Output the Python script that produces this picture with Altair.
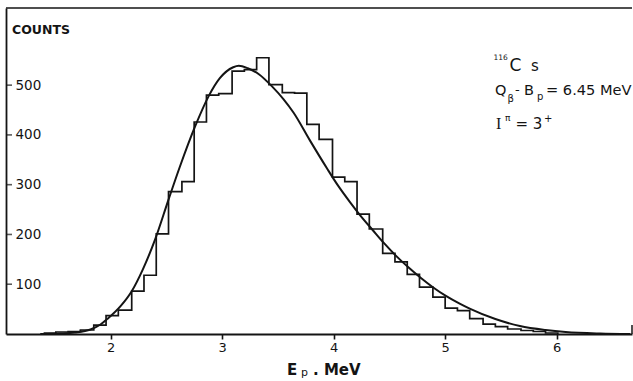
import altair as alt
import pandas as pd

# ---- data ----
# histogram: lower bin edges (MeV) and counts (last entry closes the histogram)
bin_edges = [1.40, 1.51, 1.62, 1.73, 1.85, 1.96, 2.07, 2.19, 2.30, 2.41,
             2.52, 2.64, 2.75, 2.86, 2.97, 3.09, 3.20, 3.31, 3.42, 3.54,
             3.65, 3.76, 3.87, 3.99, 4.10, 4.21, 4.32, 4.44, 4.55, 4.66,
             4.77, 4.89, 5.00, 5.11, 5.22, 5.34, 5.45, 5.56, 5.68, 5.79,
             5.90, 6.01]
counts = [2, 4, 5, 8, 18, 37, 48, 86, 118, 201,
          286, 306, 426, 480, 483, 528, 531, 555, 501, 485,
          484, 421, 391, 315, 306, 241, 211, 162, 145, 120,
          94, 74, 52, 47, 31, 20, 15, 10, 7, 5,
          2, 0]

# smooth calculated curve
curve_E = [1.37, 1.55, 1.68, 1.82, 1.91, 1.97, 2.09, 2.19, 2.29, 2.40,
           2.52, 2.62, 2.76, 2.88, 2.98, 3.10, 3.15, 3.23, 3.33, 3.45,
           3.55, 3.64, 3.79, 3.94, 4.04, 4.15, 4.24, 4.35, 4.45, 4.56,
           4.67, 4.78, 4.89, 5.01, 5.13, 5.22, 5.45, 5.67, 5.90, 6.08,
           6.39, 6.66]
curve_N = [0, 1, 3, 9, 19, 30, 56, 86, 130, 190,
           270, 335, 418, 478, 514, 536, 539, 534, 522, 497,
           472, 445, 388, 333, 298, 264, 238, 209, 183, 157,
           134, 113, 94, 76, 61, 51, 30, 16, 8, 4,
           1, 0]

x_ticks = [2, 3, 4, 5, 6]
y_ticks = [100, 200, 300, 400, 500]
x_domain = [1.063, 6.675]
y_domain = [0, 655]

# ---- layout ----
W, H = 626, 326
PAD_L, PAD_T = 6, 8
INK = "#141414"

hist_df = pd.DataFrame({"E": bin_edges, "N": counts})
curve_df = pd.DataFrame({"E": curve_E, "N": curve_N})
ytick_df = pd.DataFrame({"N": y_ticks})
one = pd.DataFrame({"a": [0]})

xs = alt.Scale(domain=x_domain, nice=False, zero=False)
ys = alt.Scale(domain=y_domain, nice=False, zero=False)

x_axis = alt.Axis(values=x_ticks, format="d", tickSize=5, tickWidth=1.6,
                  tickColor=INK, domainColor=INK, domainWidth=1.8,
                  labelFont="DejaVu Sans", labelFontSize=13, labelColor=INK,
                  labelPadding=2, grid=False, title=None)
y_axis = alt.Axis(values=y_ticks, ticks=False, tickSize=0, labelAlign="left",
                  labelBaseline="middle", labelPadding=-9,
                  labelFont="DejaVu Sans", labelFontSize=13.5, labelColor=INK,
                  domainColor=INK, domainWidth=1.8, grid=False, title=None)

hist = alt.Chart(hist_df).mark_line(
    interpolate="step-after", color=INK, strokeWidth=1.7
).encode(
    x=alt.X("E:Q", scale=xs, axis=x_axis),
    y=alt.Y("N:Q", scale=ys, axis=y_axis),
)

curve = alt.Chart(curve_df).mark_line(
    interpolate="monotone", color=INK, strokeWidth=2.0
).encode(
    x=alt.X("E:Q", scale=xs),
    y=alt.Y("N:Q", scale=ys),
)

yticks = alt.Chart(ytick_df).mark_tick(
    orient="horizontal", size=6, thickness=1.6, color=INK
).encode(
    y=alt.Y("N:Q", scale=ys),
    x=alt.value(3),
)

top_line = alt.Chart(one).mark_rule(color=INK, strokeWidth=1.6).encode(
    x=alt.value(0), x2=alt.value(W), y=alt.value(0)
)
right_stub = alt.Chart(one).mark_rule(color=INK, strokeWidth=1.5).encode(
    x=alt.value(W), y=alt.value(H - 9), y2=alt.value(H)
)


def label(text, px, py, size, font="DejaVu Sans", weight="normal"):
    """Text placed at page pixel (px, py) = left edge, alphabetic baseline."""
    return alt.Chart(pd.DataFrame({"t": [text]})).mark_text(
        align="left", baseline="alphabetic", font=font, fontSize=size,
        fontWeight=weight, color=INK
    ).encode(
        text="t:N", x=alt.value(px - PAD_L), y=alt.value(py - PAD_T)
    )


texts = [
    label("COUNTS", 12, 34, 12.5, weight="bold"),
    label("116", 493.5, 60, 7.5),
    label("C", 509.5, 70.5, 17),
    label("s", 531, 70.5, 15),
    label("Q", 495, 95, 14.5),
    label("β", 507.5, 102, 10),
    label("-", 515, 94, 13),
    label("B", 524, 95, 14.5),
    label("p", 537, 100, 10),
    label("= 6.45 MeV", 546, 95, 14.6),
    label("I", 496, 128.5, 16, font="Liberation Serif"),
    label("π", 505, 121, 9),
    label("= 3", 515.5, 129, 15),
    label("+", 544, 122, 10),
    label("E", 287, 375, 15, weight="bold"),
    label("p", 301, 375.5, 11),
    label(". MeV", 313, 375, 15, weight="bold"),
]

chart = alt.layer(
    hist, curve, yticks, top_line, right_stub, *texts
).properties(
    width=W, height=H,
    autosize=alt.AutoSizeParams(type="none"),
    padding={"left": PAD_L, "top": PAD_T, "right": 1, "bottom": 47},
    background="white",
).configure_view(stroke=None)

chart.save("out.html", embed_options={"renderer": "svg", "actions": False})
